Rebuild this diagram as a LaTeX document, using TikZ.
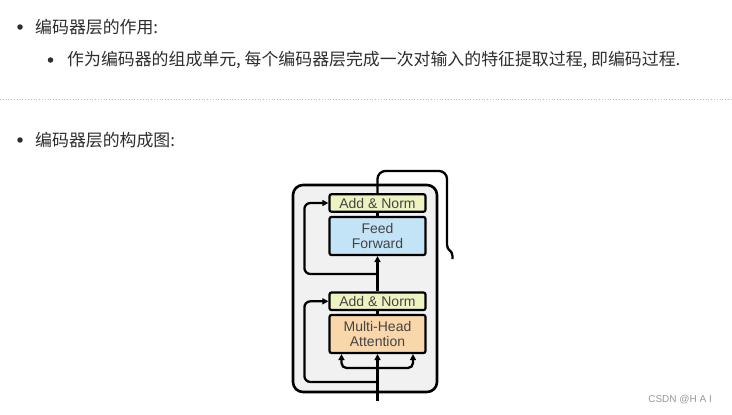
\documentclass[tikz,border=0pt]{standalone}
\usepackage{fontspec}
\setmainfont{Noto Sans CJK SC}
\newfontfamily\arialf{Liberation Sans}
\usetikzlibrary{arrows.meta}
\definecolor{txt}{HTML}{2E2E2E}
\definecolor{boxtxt}{HTML}{444444}
\definecolor{normfill}{HTML}{EFF3C2}
\definecolor{fffill}{HTML}{C3E4F6}
\definecolor{mhafill}{HTML}{FAD7AB}
\definecolor{contfill}{HTML}{F1F1F1}
\definecolor{rulecol}{HTML}{BBBBBB}
\definecolor{wmcol}{HTML}{999999}
\tikzset{
  cjk/.style={anchor=west, inner sep=0pt, text=txt, font=\fontsize{16.9}{19}\selectfont},
  bulletdot/.style={circle, fill=txt, inner sep=0pt, minimum size=5.5pt},
  blk/.style={draw=black, line width=2.2pt, rounded corners=2pt, minimum width=96pt, inner sep=0pt,
    text=boxtxt, align=center, font=\arialf\fontsize{14}{16}\selectfont},
  normbox/.style={blk, fill=normfill, minimum height=17.5pt},
  bigbox/.style={blk, minimum height=38pt},
  wire/.style={line width=2.3pt, black},
  arr/.style={wire, -{Triangle[length=6pt,width=6pt]}},
}
\begin{document}
\begin{tikzpicture}[x=1pt,y=-1pt]
\useasboundingbox (0,0) rectangle (732,415);
\fill[white] (0,0) rectangle (732,415);
% text
\node[bulletdot] (b1) at (20,27) {};
\node[cjk] (t1) at (35,27) {编码器层的作用:};
\node[bulletdot] (b2) at (50.5,60) {};
\node[cjk] (t2) at (67,60) {作为编码器的组成单元, 每个编码器层完成一次对输入的特征提取过程, 即编码过程.};
\draw[rulecol, line width=0.8pt, dotted] (0,99) -- (732,99);
\node[bulletdot] (b3) at (20,140) {};
\node[cjk] (t3) at (35,140) {编码器层的构成图:};
% container
\draw[line width=2.6pt, fill=contfill, rounded corners=10pt] (293,185) rectangle (437,392);
% boxes
\node[normbox] (an2) at (377.5,203) {Add \& Norm};
\node[bigbox, fill=fffill] (ff) at (377.5,236) {Feed\\[-1pt]Forward};
\node[normbox] (an1) at (377.5,301.3) {Add \& Norm};
\node[bigbox, fill=mhafill] (mha) at (377.5,334) {Multi-Head\\[-1pt]Attention};
% coordinates
\coordinate (in) at (377.5,401);
\coordinate (split) at (377.5,368);
\coordinate (res1) at (377.5,382);
\coordinate (res2) at (377.5,274);
\coordinate (topL) at (377.5,171);
\coordinate (topR) at (447,171);
\coordinate (bend1) at (447,245);
\coordinate (bend2) at (452.5,256);
\coordinate (outend) at (452.5,259);
% connectors
\draw[arr] (in) -- (mha.south);
\draw[arr, rounded corners=5pt] (split) -| ([xshift=-36pt]mha.south);
\draw[arr, rounded corners=5pt] (split) -| ([xshift=35.5pt]mha.south);
\draw[arr, rounded corners=6pt] (res1) -| ([xshift=-24pt]an1.west) -- (an1.west);
\draw[wire] (mha.north) -- (an1.south);
\draw[arr] (an1.north) -- (ff.south);
\draw[arr, rounded corners=6pt] (res2) -| ([xshift=-24pt]an2.west) -- (an2.west);
\draw[wire] (ff.north) -- (an2.south);
\draw[wire, rounded corners=8pt] (an2.north) -- (topL) -- (topR) -- (bend1);
\draw[wire] (bend1) .. controls (447,251) and (452.5,250) .. (bend2) -- (outend);
% watermark
\node[anchor=east, inner sep=0pt, text=wmcol, font=\arialf\fontsize{10}{12}\selectfont] (wm) at (712,400) {CSDN @H A I};
\end{tikzpicture}
\end{document}
